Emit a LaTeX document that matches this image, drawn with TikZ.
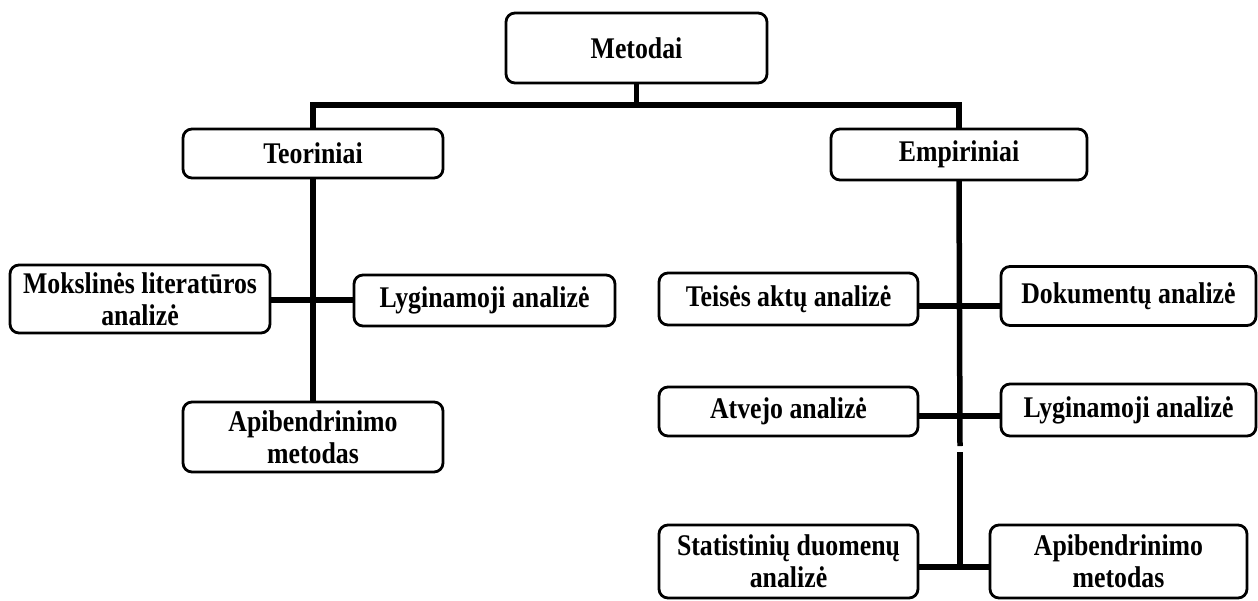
\documentclass[tikz,border=0pt]{standalone}
\usepackage{fontspec}
\setmainfont{Liberation Serif}[FakeStretch=0.86]
\begin{document}
\begin{tikzpicture}[x=1pt,y=-1pt,
  box/.style={draw=black, line width=2.8pt, rounded corners=9pt, fill=white,
    align=center, font=\fontsize{30}{32}\selectfont\bfseries, inner sep=0pt, outer sep=0pt},
  conn/.style={line width=5.5pt, black}]
\useasboundingbox (0,0) rectangle (1258,600);
% junction coordinates
\coordinate (j0) at (636.5,105);
\coordinate (l1) at (313,300);
\coordinate (r1) at (960,306);
\coordinate (r2) at (960,416);
\coordinate (gA) at (960,446);
\coordinate (gB) at (960,452);
\coordinate (r3) at (960,567);
% nodes
\node[box, minimum width=261pt, minimum height=70pt] (met) at (636.5,48) {Metodai};
\node[box, minimum width=260pt, minimum height=49pt] (teo) at (313,153.5) {Teoriniai};
\node[box, minimum width=256pt, minimum height=51pt] (emp) at (959,154.5) {Empiriniai};
\node[box, minimum width=260pt, minimum height=68pt] (mok) at (140,299) {Mokslinės literatūros\\analizė};
\node[box, minimum width=261pt, minimum height=51pt] (lygL) at (484.5,300.5) {Lyginamoji analizė};
\node[box, minimum width=260pt, minimum height=70pt] (apL) at (313,437) {Apibendrinimo\\metodas};
\node[box, minimum width=259pt, minimum height=52pt] (tei) at (788.5,299) {Teisės aktų analizė};
\node[box, minimum width=255pt, minimum height=59pt] (dok) at (1128.5,296) {Dokumentų analizė};
\node[box, minimum width=259pt, minimum height=49pt] (atv) at (788.5,411.5) {Atvejo analizė};
\node[box, minimum width=255pt, minimum height=52pt] (lygR) at (1128.5,410) {Lyginamoji analizė};
\node[box, minimum width=259pt, minimum height=73pt] (sta) at (788.5,561.5) {Statistinių duomenų\\analizė};
\node[box, minimum width=257pt, minimum height=73pt] (apR) at (1118.5,561.5) {Apibendrinimo\\metodas};
% connectors
\draw[conn] (met.south) -- (j0);
\draw[conn] (teo.north) |- (j0) -| (emp.north);
\draw[conn] (teo.south) -- (apL.north);
\draw[conn] (mok.east |- l1) -- (lygL.west |- l1);
\draw[conn] (emp.south) -- (gA);
\draw[conn] (gB) -- (r3);
\draw[conn] (tei.east |- r1) -- (dok.west |- r1);
\draw[conn] (atv.east |- r2) -- (lygR.west |- r2);
\draw[conn] (sta.east |- r3) -- (apR.west |- r3);
\end{tikzpicture}
\end{document}
